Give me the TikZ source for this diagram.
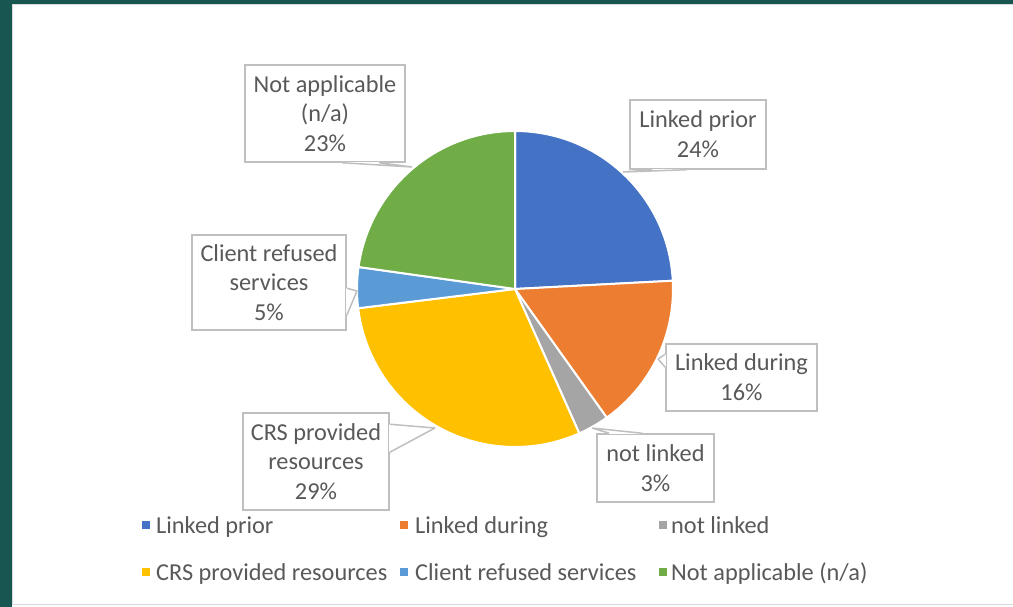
\documentclass[tikz,border=0pt]{standalone}
\usepackage{fontspec}
\setmainfont{Carlito}
\usetikzlibrary{calc}
\definecolor{frameteal}{RGB}{24,86,82}
\definecolor{edgegray}{RGB}{218,218,218}
\definecolor{boxgray}{RGB}{191,191,191}
\definecolor{txtgray}{RGB}{89,89,89}
\definecolor{slblue}{RGB}{68,114,196}
\definecolor{slorange}{RGB}{237,125,49}
\definecolor{slgray}{RGB}{165,165,165}
\definecolor{slgold}{RGB}{255,192,0}
\definecolor{sllightblue}{RGB}{91,155,213}
\definecolor{slgreen}{RGB}{112,173,71}
\begin{document}
\begin{tikzpicture}[x=1bp, y=-1bp,
  lbl/.style={draw=boxgray, line width=1.5bp, fill=white, text=txtgray, align=center,
    font=\fontsize{24.4}{30}\selectfont, inner sep=0pt, text depth=0pt},
  ptr/.style={draw=boxgray, line width=1.5bp, line join=bevel},
  gap/.style={white, line width=2.2bp},
  leg/.style={text=txtgray, anchor=base west, font=\fontsize{24.4}{30}\selectfont, inner sep=0pt},
  key/.style={minimum size=8bp, inner sep=0pt}]
\useasboundingbox (0,0) rectangle (1013,607);
% Cadre
\fill[frameteal] (0,0) rectangle (1013,607);
\fill[white] (12,4) rectangle (1013,607);
\draw[edgegray] (1013,4.5) -- (12.5,4.5) -- (12.5,604) -- (1013,604);
% Secteurs
\fill[slblue, draw=white, line width=2bp] (515,289) -- ++(-90:158) arc[start angle=-90, end angle=-3, radius=158] -- cycle;
\fill[slorange, draw=white, line width=2bp] (515,289) -- ++(-3:158) arc[start angle=-3, end angle=54.5, radius=158] -- cycle;
\fill[slgray, draw=white, line width=2bp] (515,289) -- ++(54.5:158) arc[start angle=54.5, end angle=66, radius=158] -- cycle;
\fill[slgold, draw=white, line width=2bp] (515,289) -- ++(66:158) arc[start angle=66, end angle=173, radius=158] -- cycle;
\fill[sllightblue, draw=white, line width=2bp] (515,289) -- ++(173:158) arc[start angle=173, end angle=188, radius=158] -- cycle;
\fill[slgreen, draw=white, line width=2bp] (515,289) -- ++(188:158) arc[start angle=188, end angle=270, radius=158] -- cycle;
% Etiquettes
\node[lbl, minimum width=160bp, minimum height=97bp] (na) at (325,113.5) {Not applicable\\(n/a)\\23\%};
\coordinate (natip) at (412,167);
\draw[gap] ($(na.south west)+(98,0)$) -- ($(na.south west)+(135,0)$);
\draw[ptr] ($(na.south west)+(98,0)$) -- (natip) -- ($(na.south west)+(135,0)$);
\node[lbl, minimum width=136bp, minimum height=69bp] (lp) at (698,134.5) {Linked prior\\24\%};
\coordinate (lptip) at (623,172);
\draw[gap] ($(lp.south west)+(23,0)$) -- ($(lp.south west)+(57,0)$);
\draw[ptr] ($(lp.south west)+(23,0)$) -- (lptip) -- ($(lp.south west)+(57,0)$);
\node[lbl, minimum width=154bp, minimum height=95bp] (cr) at (269,282.5) {Client refused\\services\\5\%};
\coordinate (crtip) at (357,291);
\draw[gap] ($(cr.north east)+(0,54)$) -- ($(cr.north east)+(0,81)$);
\draw[ptr] ($(cr.north east)+(0,54)$) -- (crtip) -- ($(cr.north east)+(0,81)$);
\node[lbl, minimum width=151bp, minimum height=67bp] (ld) at (741.5,377.5) {Linked during\\16\%};
\coordinate (ldtip) at (658,359);
\draw[gap] ($(ld.north west)+(0,11)$) -- ($(ld.north west)+(0,24)$);
\draw[ptr] ($(ld.north west)+(0,11)$) -- (ldtip) -- ($(ld.north west)+(0,24)$);
\node[lbl, minimum width=117bp, minimum height=68bp] (nl) at (655.5,468) {not linked\\3\%};
\coordinate (nltip) at (592,428);
\draw[gap] ($(nl.north west)+(13,0)$) -- ($(nl.north west)+(46,0)$);
\draw[ptr] ($(nl.north west)+(13,0)$) -- (nltip) -- ($(nl.north west)+(46,0)$);
\node[lbl, minimum width=146bp, minimum height=97bp] (crs) at (316,461.5) {CRS provided\\resources\\29\%};
\coordinate (crstip) at (435,428);
\draw[gap] ($(crs.north east)+(0,12)$) -- ($(crs.north east)+(0,40)$);
\draw[ptr] ($(crs.north east)+(0,12)$) -- (crstip) -- ($(crs.north east)+(0,40)$);
% Legende
\node[key, fill=slblue] (k1) at (145.5,525) {};
\node[leg] (t1) at (156,533) {Linked prior};
\node[key, fill=slorange] (k2) at (403.5,525) {};
\node[leg] (t2) at (415,533) {Linked during};
\node[key, fill=slgray] (k3) at (662.5,525) {};
\node[leg] (t3) at (671,533) {not linked};
\node[key, fill=slgold] (k4) at (145.5,572) {};
\node[leg] (t4) at (156,580) {CRS provided resources};
\node[key, fill=sllightblue] (k5) at (403.5,572) {};
\node[leg] (t5) at (415,580) {Client refused services};
\node[key, fill=slgreen] (k6) at (662.5,572) {};
\node[leg] (t6) at (671,580) {Not applicable (n/a)};
\end{tikzpicture}
\end{document}
